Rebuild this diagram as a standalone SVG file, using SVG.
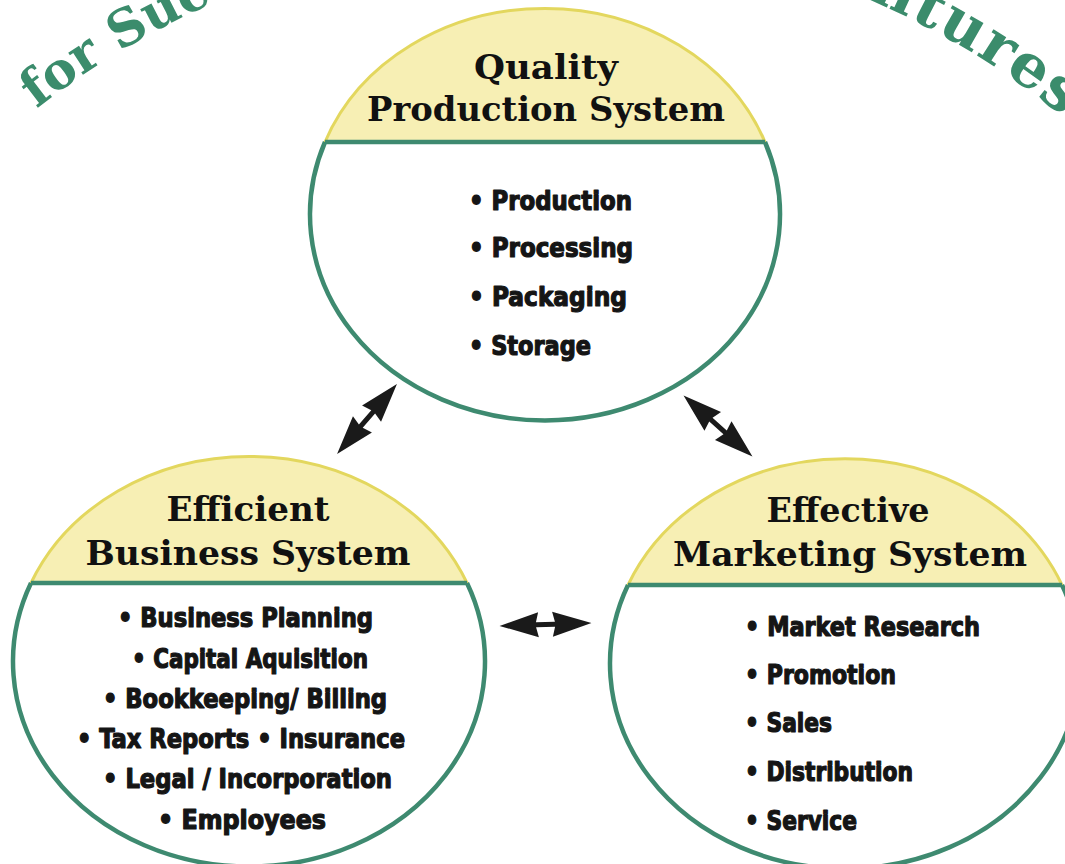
<svg xmlns="http://www.w3.org/2000/svg" xmlns:xlink="http://www.w3.org/1999/xlink" width="1065" height="864" viewBox="0 0 1065 864">
  <style>
    .title{font-family:"DejaVu Serif","Liberation Serif",serif;font-weight:bold;font-size:51px;fill:#3b8c6c}
    .big{font-size:60px;letter-spacing:2px}
    .head{font-family:"DejaVu Serif","Liberation Serif",serif;font-weight:bold;font-size:34px;fill:#111;text-anchor:middle}
    .item{font-family:"DejaVu Sans Condensed","Liberation Sans Narrow","Liberation Sans",sans-serif;font-weight:bold;font-size:27px;fill:#151515;stroke:#151515;stroke-width:1.2;stroke-linejoin:round}
    .body{fill:#fff}
    .cap{fill:#f7efb4;stroke:#e3d75e;stroke-width:3}
    .rim{fill:none;stroke:#3e8a70;stroke-width:4.5}
    .arrow{fill:#1a1a1a}
  </style>
  <defs>
    <!-- large arc carrying the banner lettering -->
    <path id="bannerArc" d="M -169.5 346 A 825 825 0 0 1 1259.5 346"/>
    <!-- double-headed arrow, 92px long, centred on the origin -->
    <path id="dblArrow" d="M -46 0 L -7 -12.5 L -9.5 -2.5 L 9.5 -2.5 L 7 -12.5 L 46 0 L 7 12.5 L 9.5 2.5 L -9.5 2.5 L -7 12.5 Z"/>
  </defs>

  <rect width="1065" height="864" fill="#fff"/>

  <!-- banner -->
  <g id="banner">
    <text class="title"><textPath xlink:href="#bannerArc" startOffset="316">for Suc</textPath></text>
    <text class="title big" text-anchor="end"><textPath xlink:href="#bannerArc" startOffset="1426">ntures</textPath></text>
  </g>

  <!-- Quality Production System -->
  <g id="production">
    <ellipse class="body" cx="545" cy="215" rx="235" ry="206"/>
    <path class="cap" d="M 325 142 A 235 206 0 0 1 765 142 Z"/>
    <path class="rim" d="M 325 142 A 235 206 0 1 0 765 142 M 325 142 L 765 142"/>
    <text class="head" x="546" y="79" textLength="144" lengthAdjust="spacingAndGlyphs">Quality</text>
    <text class="head" x="546" y="121" textLength="358" lengthAdjust="spacingAndGlyphs">Production System</text>
    <text class="item" x="469" y="210" textLength="163" lengthAdjust="spacingAndGlyphs">• Production</text>
    <text class="item" x="469" y="257" textLength="164" lengthAdjust="spacingAndGlyphs">• Processing</text>
    <text class="item" x="469" y="306" textLength="158" lengthAdjust="spacingAndGlyphs">• Packaging</text>
    <text class="item" x="469" y="355" textLength="122" lengthAdjust="spacingAndGlyphs">• Storage</text>
  </g>

  <!-- Efficient Business System -->
  <g id="business">
    <ellipse class="body" cx="249" cy="660" rx="236" ry="205"/>
    <path class="cap" d="M 31 583 A 236 205 0 0 1 467 583 Z"/>
    <path class="rim" d="M 31 583 A 236 205 0 1 0 467 583 M 31 583 L 467 583"/>
    <text class="head" x="248" y="521" textLength="163" lengthAdjust="spacingAndGlyphs">Efficient</text>
    <text class="head" x="248" y="565" textLength="325" lengthAdjust="spacingAndGlyphs">Business System</text>
    <text class="item" x="118" y="627" textLength="255" lengthAdjust="spacingAndGlyphs">• Business Planning</text>
    <text class="item" x="132" y="668" textLength="236" lengthAdjust="spacingAndGlyphs">• Capital Aquisition</text>
    <text class="item" x="103" y="708" textLength="284" lengthAdjust="spacingAndGlyphs">• Bookkeeping/ Billing</text>
    <text class="item" x="77" y="748" textLength="328" lengthAdjust="spacingAndGlyphs">• Tax Reports • Insurance</text>
    <text class="item" x="103" y="788" textLength="289" lengthAdjust="spacingAndGlyphs">• Legal / Incorporation</text>
    <text class="item" x="158" y="829" textLength="168" lengthAdjust="spacingAndGlyphs">• Employees</text>
  </g>

  <!-- Effective Marketing System -->
  <g id="marketing">
    <ellipse class="body" cx="845" cy="664" rx="235" ry="205"/>
    <path class="cap" d="M 628 585 A 235 205 0 0 1 1062 585 Z"/>
    <path class="rim" d="M 628 585 A 235 205 0 1 0 1062 585 M 628 585 L 1062 585"/>
    <text class="head" x="848" y="522" textLength="163" lengthAdjust="spacingAndGlyphs">Effective</text>
    <text class="head" x="850" y="566" textLength="354" lengthAdjust="spacingAndGlyphs">Marketing System</text>
    <text class="item" x="745" y="636" textLength="235" lengthAdjust="spacingAndGlyphs">• Market Research</text>
    <text class="item" x="745" y="684" textLength="151" lengthAdjust="spacingAndGlyphs">• Promotion</text>
    <text class="item" x="745" y="732" textLength="87" lengthAdjust="spacingAndGlyphs">• Sales</text>
    <text class="item" x="745" y="781" textLength="168" lengthAdjust="spacingAndGlyphs">• Distribution</text>
    <text class="item" x="745" y="830" textLength="112" lengthAdjust="spacingAndGlyphs">• Service</text>
  </g>

  <!-- two-way links between the systems -->
  <g id="connectors" class="arrow">
    <use xlink:href="#dblArrow" transform="translate(367 419) rotate(-49.4)"/>
    <use xlink:href="#dblArrow" transform="translate(718 426) rotate(41.5)"/>
    <use xlink:href="#dblArrow" transform="translate(545.5 624.5) rotate(-1.8)"/>
  </g>
</svg>
